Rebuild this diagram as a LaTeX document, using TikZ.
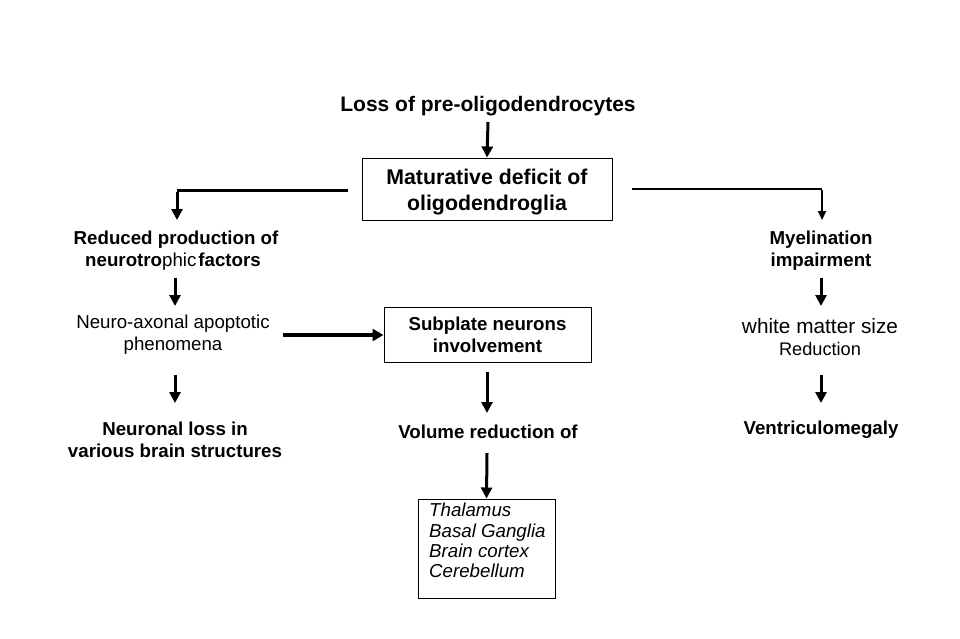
\documentclass[tikz,border=0pt]{standalone}
\usepackage{fontspec}
\setmainfont{Liberation Sans}
\usetikzlibrary{arrows.meta}
\begin{document}
\begin{tikzpicture}[x=1pt,y=-1pt,
  txt/.style={align=center,inner sep=0pt,font=\fontsize{18.7}{22.5}\selectfont},
  btxt/.style={txt,font=\fontsize{18.7}{22.5}\selectfont\bfseries},
  boxed/.style={draw,line width=1pt},
  arr/.style={line width=3pt,-{Triangle[width=11pt,length=11pt]}},
  thinarr/.style={line width=2pt,-{Triangle[width=8pt,length=9pt]}}]
\useasboundingbox[fill=white] (0,0) rectangle (960,638);
% top
\node[btxt,font=\fontsize{21}{25}\selectfont\bfseries] (loss) at (488,106) {Loss of pre-oligodendrocytes};
\node[boxed,minimum width=250pt,minimum height=62pt,inner sep=0pt] (mat) at (487,189) {};
\node[align=center,inner sep=0pt,font=\fontsize{21.3}{26}\selectfont\bfseries] (mattxt) at (487,192) {Maturative deficit of\\oligodendroglia};
\draw[arr] (488,122) -- (mat.north);
% left column
\node[btxt] (red) at (176,250.5) {Reduced production of\\neurotro\mdseries phic\hspace{2pt}\bfseries factors\hspace*{6pt}};
\node[txt] (neuro) at (173,334.5) {Neuro-axonal apoptotic\\phenomena};
\node[btxt] (nloss) at (175,440) {Neuronal loss in\\various brain structures};
\coordinate (lstart) at (348,190);
\coordinate (lcorner) at (177,190);
\draw[line width=3pt] (lstart) -- (lcorner);
\draw[arr] ([yshift=-1.5pt]lcorner) -- (177,220);
\coordinate (a1s) at (175,278); \coordinate (a1e) at (175,306);
\draw[arr] (a1s) -- (a1e);
\coordinate (a2s) at (175,375); \coordinate (a2e) at (175,403);
\draw[arr] (a2s) -- (a2e);
% middle column
\node[boxed,minimum width=207pt,minimum height=55pt,align=center,inner sep=0pt,font=\fontsize{18.7}{22}\selectfont\bfseries] (sub) at (487.5,334.5) {Subplate neurons\\involvement};
\draw[line width=4pt,-{Triangle[width=12pt,length=11pt]}] (283,335) -- (sub.west |- 0,335);
\node[btxt] (vol) at (488,432) {Volume reduction of};
\draw[arr] (487,372) -- (487,413);
\node[boxed,minimum width=137pt,minimum height=99pt,inner sep=0pt] (list) at (486.5,548.5) {};
\node[anchor=north west,align=left,inner sep=0pt,font=\fontsize{18.7}{20.4}\selectfont\itshape] (listtxt) at (429,503) {Thalamus\\Basal Ganglia\\Brain cortex\\Cerebellum};
\draw[arr] (487,453) -- (list.north);
% right column
\node[btxt] (mye) at (821,250.5) {Myelination\\impairment};
\node[txt,font=\fontsize{20.8}{24}\selectfont] (wm) at (820,326) {white matter size};
\node[txt,font=\fontsize{18.2}{20}\selectfont] (wmr) at (820,349) {Reduction};
\node[btxt] (vent) at (821,430) {Ventriculomegaly};
\coordinate (rstart) at (632,189);
\coordinate (rcorner) at (822,189);
\draw[line width=2pt] (rstart) -- (rcorner);
\draw[thinarr] ([yshift=-1pt]rcorner) -- (822,220);
\draw[arr] (821,278) -- (821,306);
\draw[arr] (821,375) -- (821,403);
\end{tikzpicture}
\end{document}
